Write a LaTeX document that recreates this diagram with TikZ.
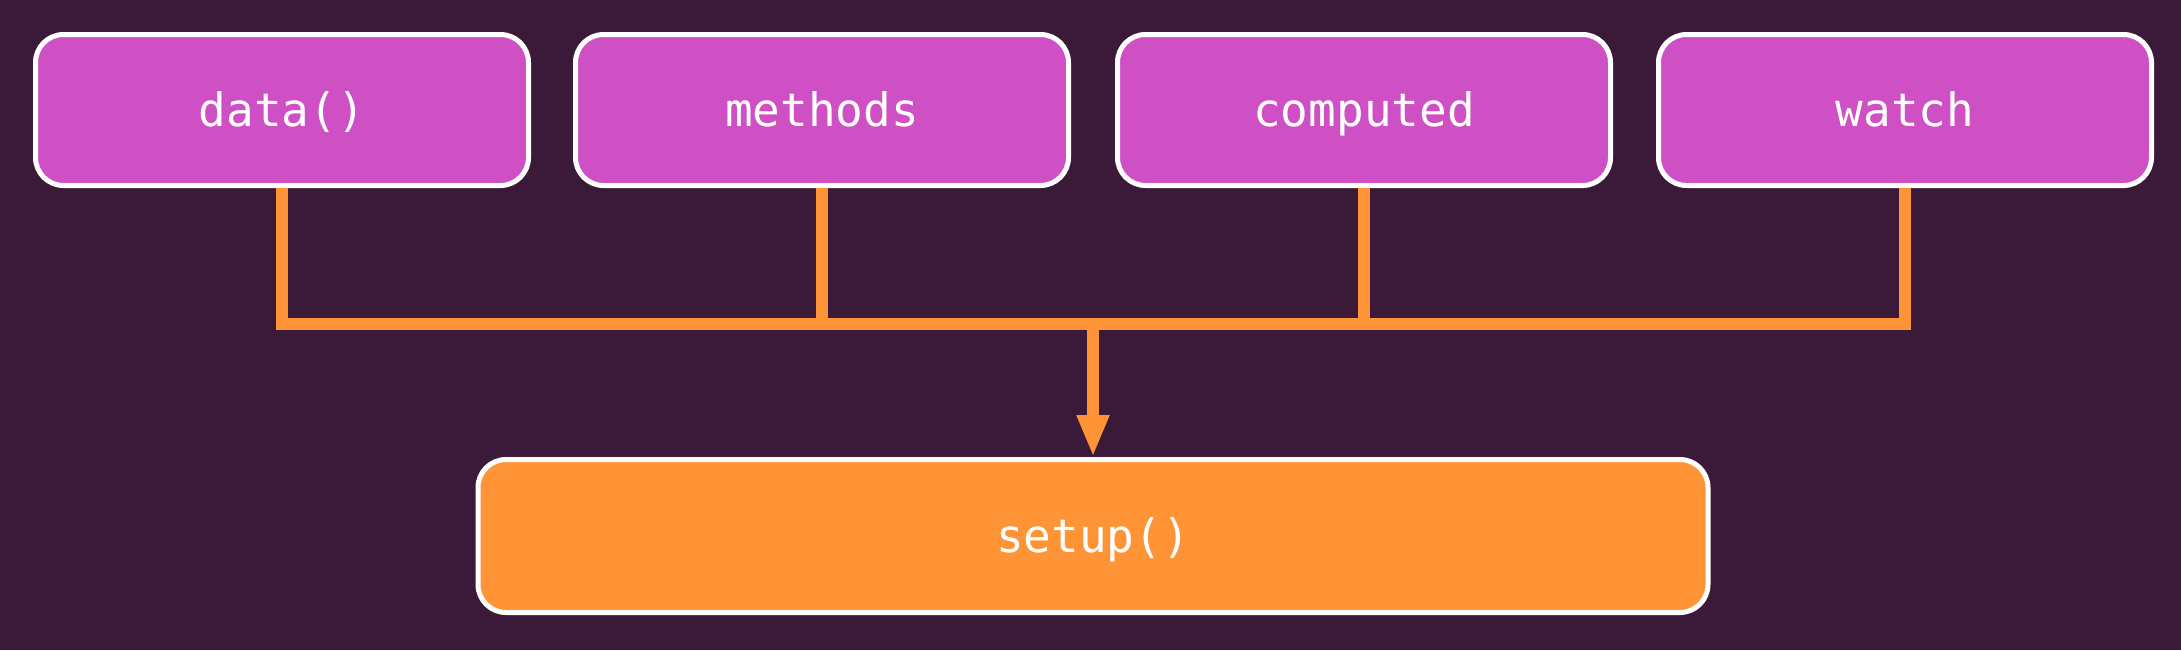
\documentclass[tikz,border=0pt]{standalone}
\usepackage{fontspec}
\setmonofont{DejaVu Sans Mono}
\usepackage{tikz}
\usetikzlibrary{arrows.meta, positioning, calc}
\definecolor{bgpurple}{HTML}{3A1A38}
\definecolor{boxpurple}{HTML}{CE50C4}
\definecolor{wireorange}{HTML}{FF9437}
\tikzset{
wire/.style={%
    draw=wireorange,
    line width=6pt,
    line join=miter
},
box/.style={%
    rectangle,
    minimum width=246.5pt,
    minimum height=75.5pt,
    rounded corners=14pt,
    draw=white,
    line width=2.5pt,
    fill=boxpurple,
    text=white,
    text height=20pt,
    text depth=4pt,
    % Font
    font=\ttfamily\fontsize{23}{28}\selectfont
},
bigbox/.style={%
    box, fill=wireorange, minimum width=615pt, minimum height=76.5pt
},
}

\begin{document}
\begin{tikzpicture}[x=0.5pt, y=-0.5pt, >={Triangle[length=21pt,width=15pt]}]

				\fill[bgpurple] (0,0) rectangle (2181,650);

				\node[box] at (282,110) (data) {data()};
				\node[box] at (822,110) (methods) {methods};
				\node[box] at (1364,110) (computed) {computed};
				\node[box] at (1905,110) (watch) {watch};
				\node[bigbox] at (1093,536) (setup) {setup()};

				\coordinate (bus) at (1093,324);

			\path[wire] (data.south) |- (bus) -| (watch.south);
			\path[wire] (methods.south) -- (methods.south |- bus);
			\path[wire] (computed.south) -- (computed.south |- bus);
			\path[wire, ->, fill=wireorange] (bus) -- (setup.north);

			\end{tikzpicture}
\end{document}
